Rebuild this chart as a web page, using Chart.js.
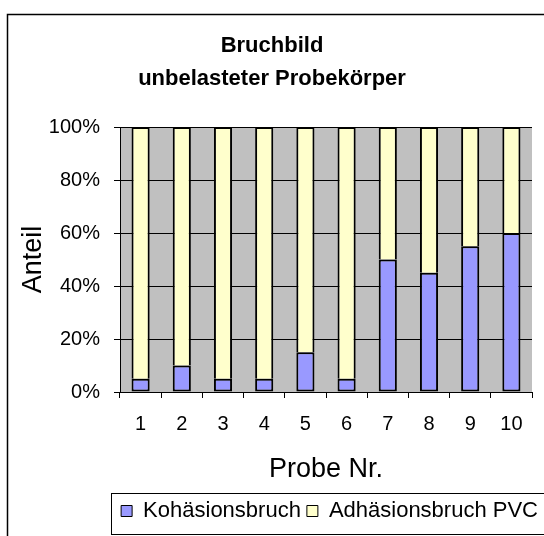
<!DOCTYPE html>
<html>
<head>
<meta charset="utf-8">
<script src="https://cdn.jsdelivr.net/npm/chart.js@4/dist/chart.umd.min.js"></script>
<style>
  html, body { margin: 0; padding: 0; background: #fff; }
  #wrap { width: 544px; height: 536px; position: relative; }
</style>
</head>
<body>
<div id="wrap"><canvas id="c" width="544" height="536"></canvas></div>
<script>
const categories = ['1', '2', '3', '4', '5', '6', '7', '8', '9', '10'];
const kohaesion = [5, 10, 5, 5, 15, 5, 50, 45, 55, 60];
const adhaesion = [95, 90, 95, 95, 85, 95, 50, 55, 45, 40];
const yTicks = [0, 20, 40, 60, 80, 100];
const titleLines = ['Bruchbild', 'unbelasteter Probekörper'];
const seriesNames = ['Kohäsionsbruch', 'Adhäsionsbruch PVC'];

const FONT = "'Liberation Sans', Arial, sans-serif";

const framePlugin = {
  id: 'frames',
  beforeDraw(chart) {
    const {ctx, chartArea: a} = chart;
    ctx.save();
    ctx.fillStyle = '#c0c0c0';
    ctx.fillRect(a.left, a.top, a.right - a.left, a.bottom - a.top);
    ctx.restore();
  },
  afterDraw(chart) {
    const ctx = chart.ctx;
    ctx.save();
    ctx.strokeStyle = '#000';
    ctx.lineWidth = 1.5;
    ctx.strokeRect(7.5, 14.5, 1000, 1000);
    const lg = chart.legend;
    if (lg && lg.legendHitBoxes && lg.legendHitBoxes.length) {
      const left = Math.round(lg.legendHitBoxes[0].left - 10) + 0.5;
      const top = Math.round(lg.top - 1.5) + 0.5;
      ctx.lineWidth = 1;
      ctx.strokeStyle = '#000';
      ctx.strokeRect(left, top, 1000, 41);
    }
    ctx.restore();
  }
};

new Chart(document.getElementById('c'), {
  type: 'bar',
  data: {
    labels: categories,
    datasets: [
      {
        label: seriesNames[0],
        data: kohaesion,
        backgroundColor: '#9999ff',
        borderColor: '#000',
        borderWidth: 2,
        borderSkipped: false,
        categoryPercentage: 1,
        barPercentage: 0.44
      },
      {
        label: seriesNames[1],
        data: adhaesion,
        backgroundColor: '#ffffcc',
        borderColor: '#000',
        borderWidth: 2,
        borderSkipped: 'start',
        categoryPercentage: 1,
        barPercentage: 0.44
      }
    ]
  },
  options: {
    responsive: false,
    animation: false,
    layout: { padding: { left: 0, right: 0, top: 0, bottom: 4 } },
    plugins: {
      tooltip: { enabled: false },
      title: {
        display: true,
        text: titleLines,
        color: '#000',
        font: { family: FONT, size: 22, weight: 'bold', lineHeight: 1.5 },
        padding: { top: 29, bottom: 32 }
      },
      legend: {
        position: 'bottom',
        align: 'end',
        labels: {
          color: '#000',
          font: { family: FONT, size: 22 },
          boxWidth: 11,
          boxHeight: 11,
          padding: 6,
          generateLabels(chart) {
            const items = Chart.defaults.plugins.legend.labels.generateLabels(chart);
            items.forEach(it => { it.lineWidth = 1; });
            return items;
          }
        }
      }
    },
    scales: {
      x: {
        stacked: true,
        grid: { display: true, drawOnChartArea: false, drawTicks: true, tickLength: 6, color: '#000', offset: true },
        border: { display: true, color: '#000', width: 1 },
        ticks: { color: '#000', font: { family: FONT, size: 20 }, padding: 14, maxRotation: 0 },
        title: {
          display: true,
          text: 'Probe Nr.',
          color: '#000',
          font: { family: FONT, size: 27, lineHeight: 1.2 },
          padding: { top: 0, bottom: 8 }
        },
        afterFit(s) { s.height = 102; }
      },
      y: {
        stacked: true,
        min: 0,
        max: 100,
        afterBuildTicks(s) { s.ticks = yTicks.map(v => ({ value: v })); },
        grid: { color: '#000', lineWidth: 1, drawTicks: true, tickLength: 6 },
        border: { display: true, color: '#000', width: 1 },
        ticks: { color: '#000', font: { family: FONT, size: 20 }, padding: 14, callback: v => v + '%' },
        title: {
          display: true,
          text: 'Anteil',
          color: '#000',
          font: { family: FONT, size: 27, lineHeight: 1.2 },
          padding: { top: 17, bottom: 0 }
        },
        afterFit(s) { s.width = 120; }
      },
      yR: {
        type: 'linear',
        position: 'right',
        display: true,
        grid: { display: false, drawTicks: false },
        border: { display: false },
        ticks: { display: false },
        afterFit(s) { s.width = 12; }
      }
    }
  },
  plugins: [framePlugin]
});
</script>
</body>
</html>
